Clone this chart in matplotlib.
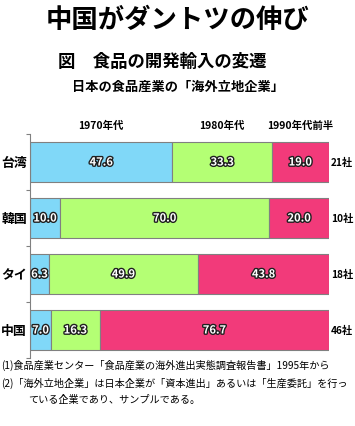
import numpy as np
import matplotlib
matplotlib.use("Agg")
import matplotlib.pyplot as plt
import matplotlib.patheffects as pe
from matplotlib.transforms import blended_transform_factory

plt.rcParams['font.family'] = ['Noto Sans CJK JP', 'DejaVu Sans']

# data
countries = ["台湾", "韓国", "タイ", "中国"]
periods = ["1970年代", "1980年代", "1990年代前半"]
v1970 = [47.6, 10.0, 6.3, 7.0]
v1980 = [33.3, 70.0, 49.9, 16.3]
v1990 = [19.0, 20.0, 43.8, 76.7]
counts = ["21社", "10社", "18社", "46社"]
colors = ["#80d8f8", "#b4ff74", "#f23a7a"]

fig = plt.figure(figsize=(3.55, 4.27), dpi=100)
ax = fig.add_axes([30 / 355, 68 / 427, 299 / 355, 224 / 427])

series = [v1970, v1980, v1990]
y = np.arange(len(countries))
left = np.zeros(len(countries))
outline = [pe.withStroke(linewidth=2, foreground="#202020")]
for vals, col in zip(series, colors):
    vals = np.array(vals)
    ax.barh(y, vals, left=left, height=0.714, color=col, edgecolor="#808080", linewidth=0.8)
    for yi, l, v in zip(y, left, vals):
        ax.text(l + v / 2, yi, "%.1f" % v, ha="center", va="center", color="white",
                fontsize=8, fontweight="bold", path_effects=outline)
    left = left + vals

ax.set_xlim(0, 100)
ax.set_ylim(len(countries) - 0.5, -0.5)

# period headers centred on the first row
left0 = 0.0
for name, vals in zip(periods, series):
    ax.text(left0 + vals[0] / 2, -0.58, name, ha="center", va="bottom",
            fontsize=7.5, fontweight="bold")
    left0 += vals[0]

trans = blended_transform_factory(fig.transFigure, ax.transData)
for yi, c, n in zip(y, countries, counts):
    ax.text(27 / 355, yi, c, transform=trans, ha="right", va="center",
            fontsize=9.3, fontweight="bold")
    ax.text(331 / 355, yi, n, transform=trans, ha="left", va="center",
            fontsize=7.3, fontweight="bold")

for s in ["top", "right", "bottom"]:
    ax.spines[s].set_visible(False)
ax.spines["left"].set_color("#808080")
ax.spines["left"].set_linewidth(0.8)
ax.set_xticks([])
ax.set_yticks(np.arange(-0.5, len(countries), 1.0))
ax.set_yticklabels([])
ax.tick_params(axis="y", length=3, color="#808080", width=0.8)

fig.text(0.5, 0.953, "中国がダントツの伸び", ha="center", va="center",
         fontsize=19, fontweight="bold")
fig.text(0.458, 0.855, "図　食品の開発輸入の変遷", ha="center", va="center",
         fontsize=12.5, fontweight="bold")
fig.text(0.5, 0.796, "日本の食品産業の「海外立地企業」", ha="center", va="center",
         fontsize=9.5, fontweight="bold")

fig.text(0.003, 0.145, "(1)食品産業センター「食品産業の海外進出実態調査報告書」1995年から",
         ha="left", va="center", fontsize=7.3)
fig.text(0.003, 0.103, "(2)「海外立地企業」は日本企業が「資本進出」あるいは「生産委託」を行っ",
         ha="left", va="center", fontsize=7.3)
fig.text(28 / 355, 0.063, "ている企業であり、サンプルである。",
         ha="left", va="center", fontsize=7.3)

fig.savefig("out.png", dpi=100, facecolor="white")
